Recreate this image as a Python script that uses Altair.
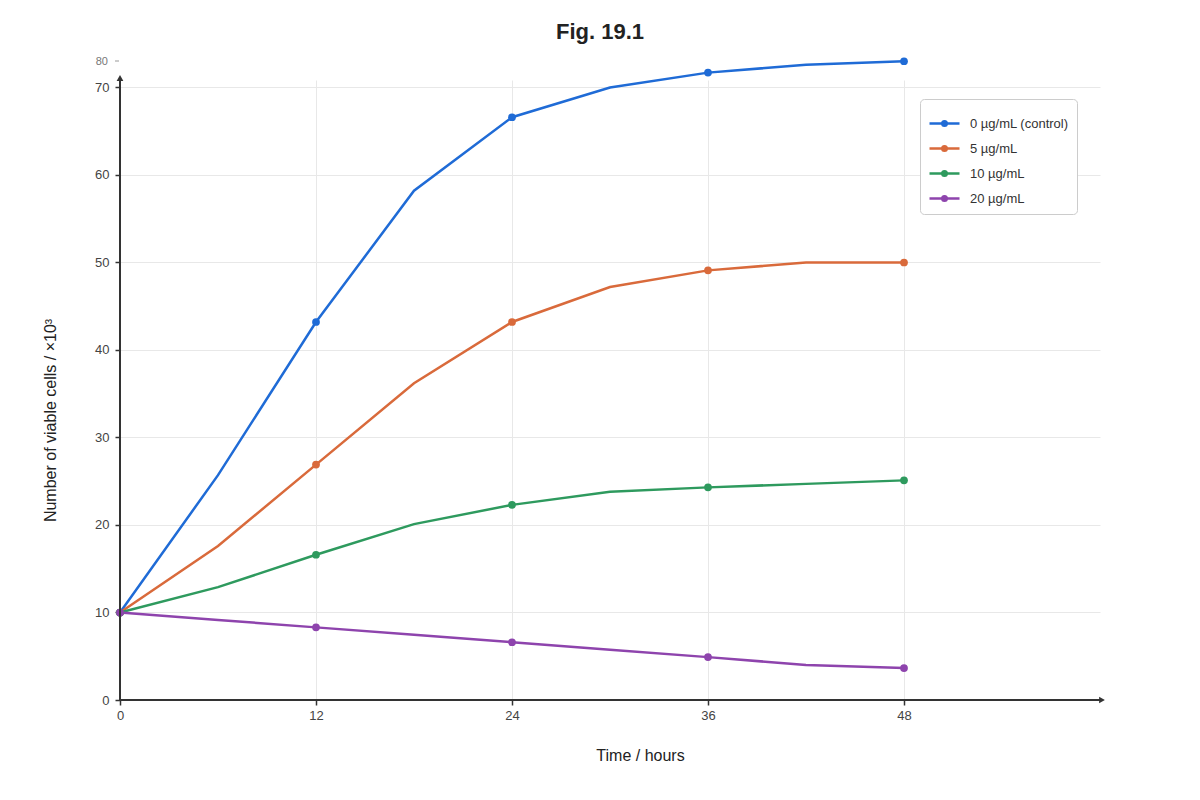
import altair as alt
import pandas as pd

hours = [0, 6, 12, 18, 24, 30, 36, 42, 48]
series_names = ["0 µg/mL (control)", "5 µg/mL", "10 µg/mL", "20 µg/mL"]
ctrl = [10, 25.7, 43.2, 58.2, 66.6, 70.0, 71.7, 72.6, 73.0]
d5 = [10, 17.6, 26.9, 36.2, 43.2, 47.2, 49.1, 50.0, 50.0]
d10 = [10, 12.9, 16.6, 20.1, 22.3, 23.8, 24.3, 24.7, 25.1]
d20 = [10, 9.15, 8.3, 7.45, 6.6, 5.75, 4.9, 4.0, 3.65]
marker_hours = [0, 12, 24, 36, 48]
colors = ["#1f6bd6", "#d96a3b", "#2e9a5e", "#8e44ad"]
x_ticks = [0, 12, 24, 36, 48]
y_ticks = [0, 10, 20, 30, 40, 50, 60, 70]
title_text = "Fig. 19.1"
extra_label = "80"

rows = []
for name, vals in zip(series_names, [ctrl, d5, d10, d20]):
    for h, v in zip(hours, vals):
        rows.append({"series": name, "hour": h, "cells": v, "marker": h in marker_hours})
df = pd.DataFrame(rows)
df["order"] = df["series"].map({n: i for i, n in enumerate(series_names)})

FONT = "Liberation Sans"
W, H = 980, 620
YMAX = 70.857

xscale = alt.Scale(domain=[0, 60], nice=False, zero=False)
yscale = alt.Scale(domain=[0, YMAX], nice=False, zero=False)
cscale = alt.Scale(domain=series_names, range=colors)

sym_path = ("M-1,0L1,0"
            "M-0.15,0a0.15,0.15 0 1,0 0.3,0a0.15,0.15 0 1,0 -0.3,0"
            "M-0.06,0a0.06,0.06 0 1,0 0.12,0a0.06,0.06 0 1,0 -0.12,0")

base = alt.Chart(df)

lines = base.mark_line(strokeWidth=2.5).encode(
    x=alt.X("hour:Q", scale=xscale,
            axis=alt.Axis(values=x_ticks, title="Time / hours", domain=False,
                          grid=True, gridColor="#e8e8e8", gridWidth=1,
                          tickColor="#333", tickSize=5, tickWidth=1.5,
                          labelFontSize=13, labelColor="#444", labelPadding=4,
                          labelFlush=False, labelFont=FONT, titleFont=FONT,
                          titleFontSize=16, titleFontWeight="normal", titleColor="#222",
                          titleX=520, titleY=55, titleBaseline="middle")),
    y=alt.Y("cells:Q", scale=yscale,
            axis=alt.Axis(values=y_ticks, title="Number of viable cells / ×10³",
                          domain=False, grid=True, gridColor="#e8e8e8", gridWidth=1,
                          tickColor="#333", tickSize=5, tickWidth=1.5,
                          labelFontSize=13, labelColor="#444", labelPadding=6,
                          labelFlush=False, labelFont=FONT, titleFont=FONT,
                          titleFontSize=16, titleFontWeight="normal", titleColor="#222",
                          titleX=-70, titleY=340, titleBaseline="middle")),
    color=alt.Color("series:N", scale=cscale, sort=series_names,
                    legend=alt.Legend(title=None, orient="none", legendX=800, legendY=19,
                                      strokeColor="#cccccc", cornerRadius=4,
                                      fillColor="white", padding=8,
                                      symbolType=sym_path, symbolSize=900,
                                      symbolStrokeWidth=2.5, labelFontSize=13,
                                      labelFont=FONT, labelColor="#333",
                                      labelOffset=9, rowPadding=1)),
    order=alt.Order("hour:Q"),
)

points = base.transform_filter("datum.marker").mark_circle(size=60, opacity=1).encode(
    x=alt.X("hour:Q", scale=xscale),
    y=alt.Y("cells:Q", scale=yscale),
    color=alt.Color("series:N", scale=cscale, legend=None),
    order=alt.Order("order:Q"),
)

ann = pd.DataFrame({"t": [title_text], "e": [extra_label]})
title = alt.Chart(ann).mark_text(font=FONT, fontSize=22, fontWeight="bold",
                                 fill="#222", baseline="middle", align="center").encode(
    text="t:N", x=alt.value(480), y=alt.value(-48))
extra = alt.Chart(ann).mark_text(font=FONT, fontSize=11, fill="#777777", color="#777777",
                                 baseline="middle", align="right").encode(
    text="e:N", x=alt.value(-12), y=alt.value(-18))
extra_tick = alt.Chart(ann).mark_rule(stroke="#999", strokeWidth=1).encode(
    x=alt.value(-5), x2=alt.value(-1), y=alt.value(-19))

yaxis = alt.Chart(ann).mark_rule(stroke="#333", strokeWidth=2).encode(
    x=alt.value(0), y=alt.value(H + 1), y2=alt.value(-1))
xaxis = alt.Chart(ann).mark_rule(stroke="#333", strokeWidth=2).encode(
    x=alt.value(-1), x2=alt.value(W + 1), y=alt.value(H))
yarrow = alt.Chart(ann).mark_point(shape="triangle-up", filled=True, fill="#333",
                                   size=45, opacity=1).encode(
    x=alt.value(0), y=alt.value(-2))
xarrow = alt.Chart(ann).mark_point(shape="triangle-right", filled=True, fill="#333",
                                   size=45, opacity=1).encode(
    x=alt.value(W + 2), y=alt.value(H))

chart = alt.layer(lines, points, yaxis, xaxis, yarrow, xarrow, extra, extra_tick, title).properties(
    width=W, height=H,
    autosize=alt.AutoSizeParams(type="none"),
    padding={"left": 112, "top": 72, "right": 92, "bottom": 92},
).configure(font=FONT).configure_view(stroke=None)

chart.save("out.html", embed_options={"renderer": "svg", "actions": False})
